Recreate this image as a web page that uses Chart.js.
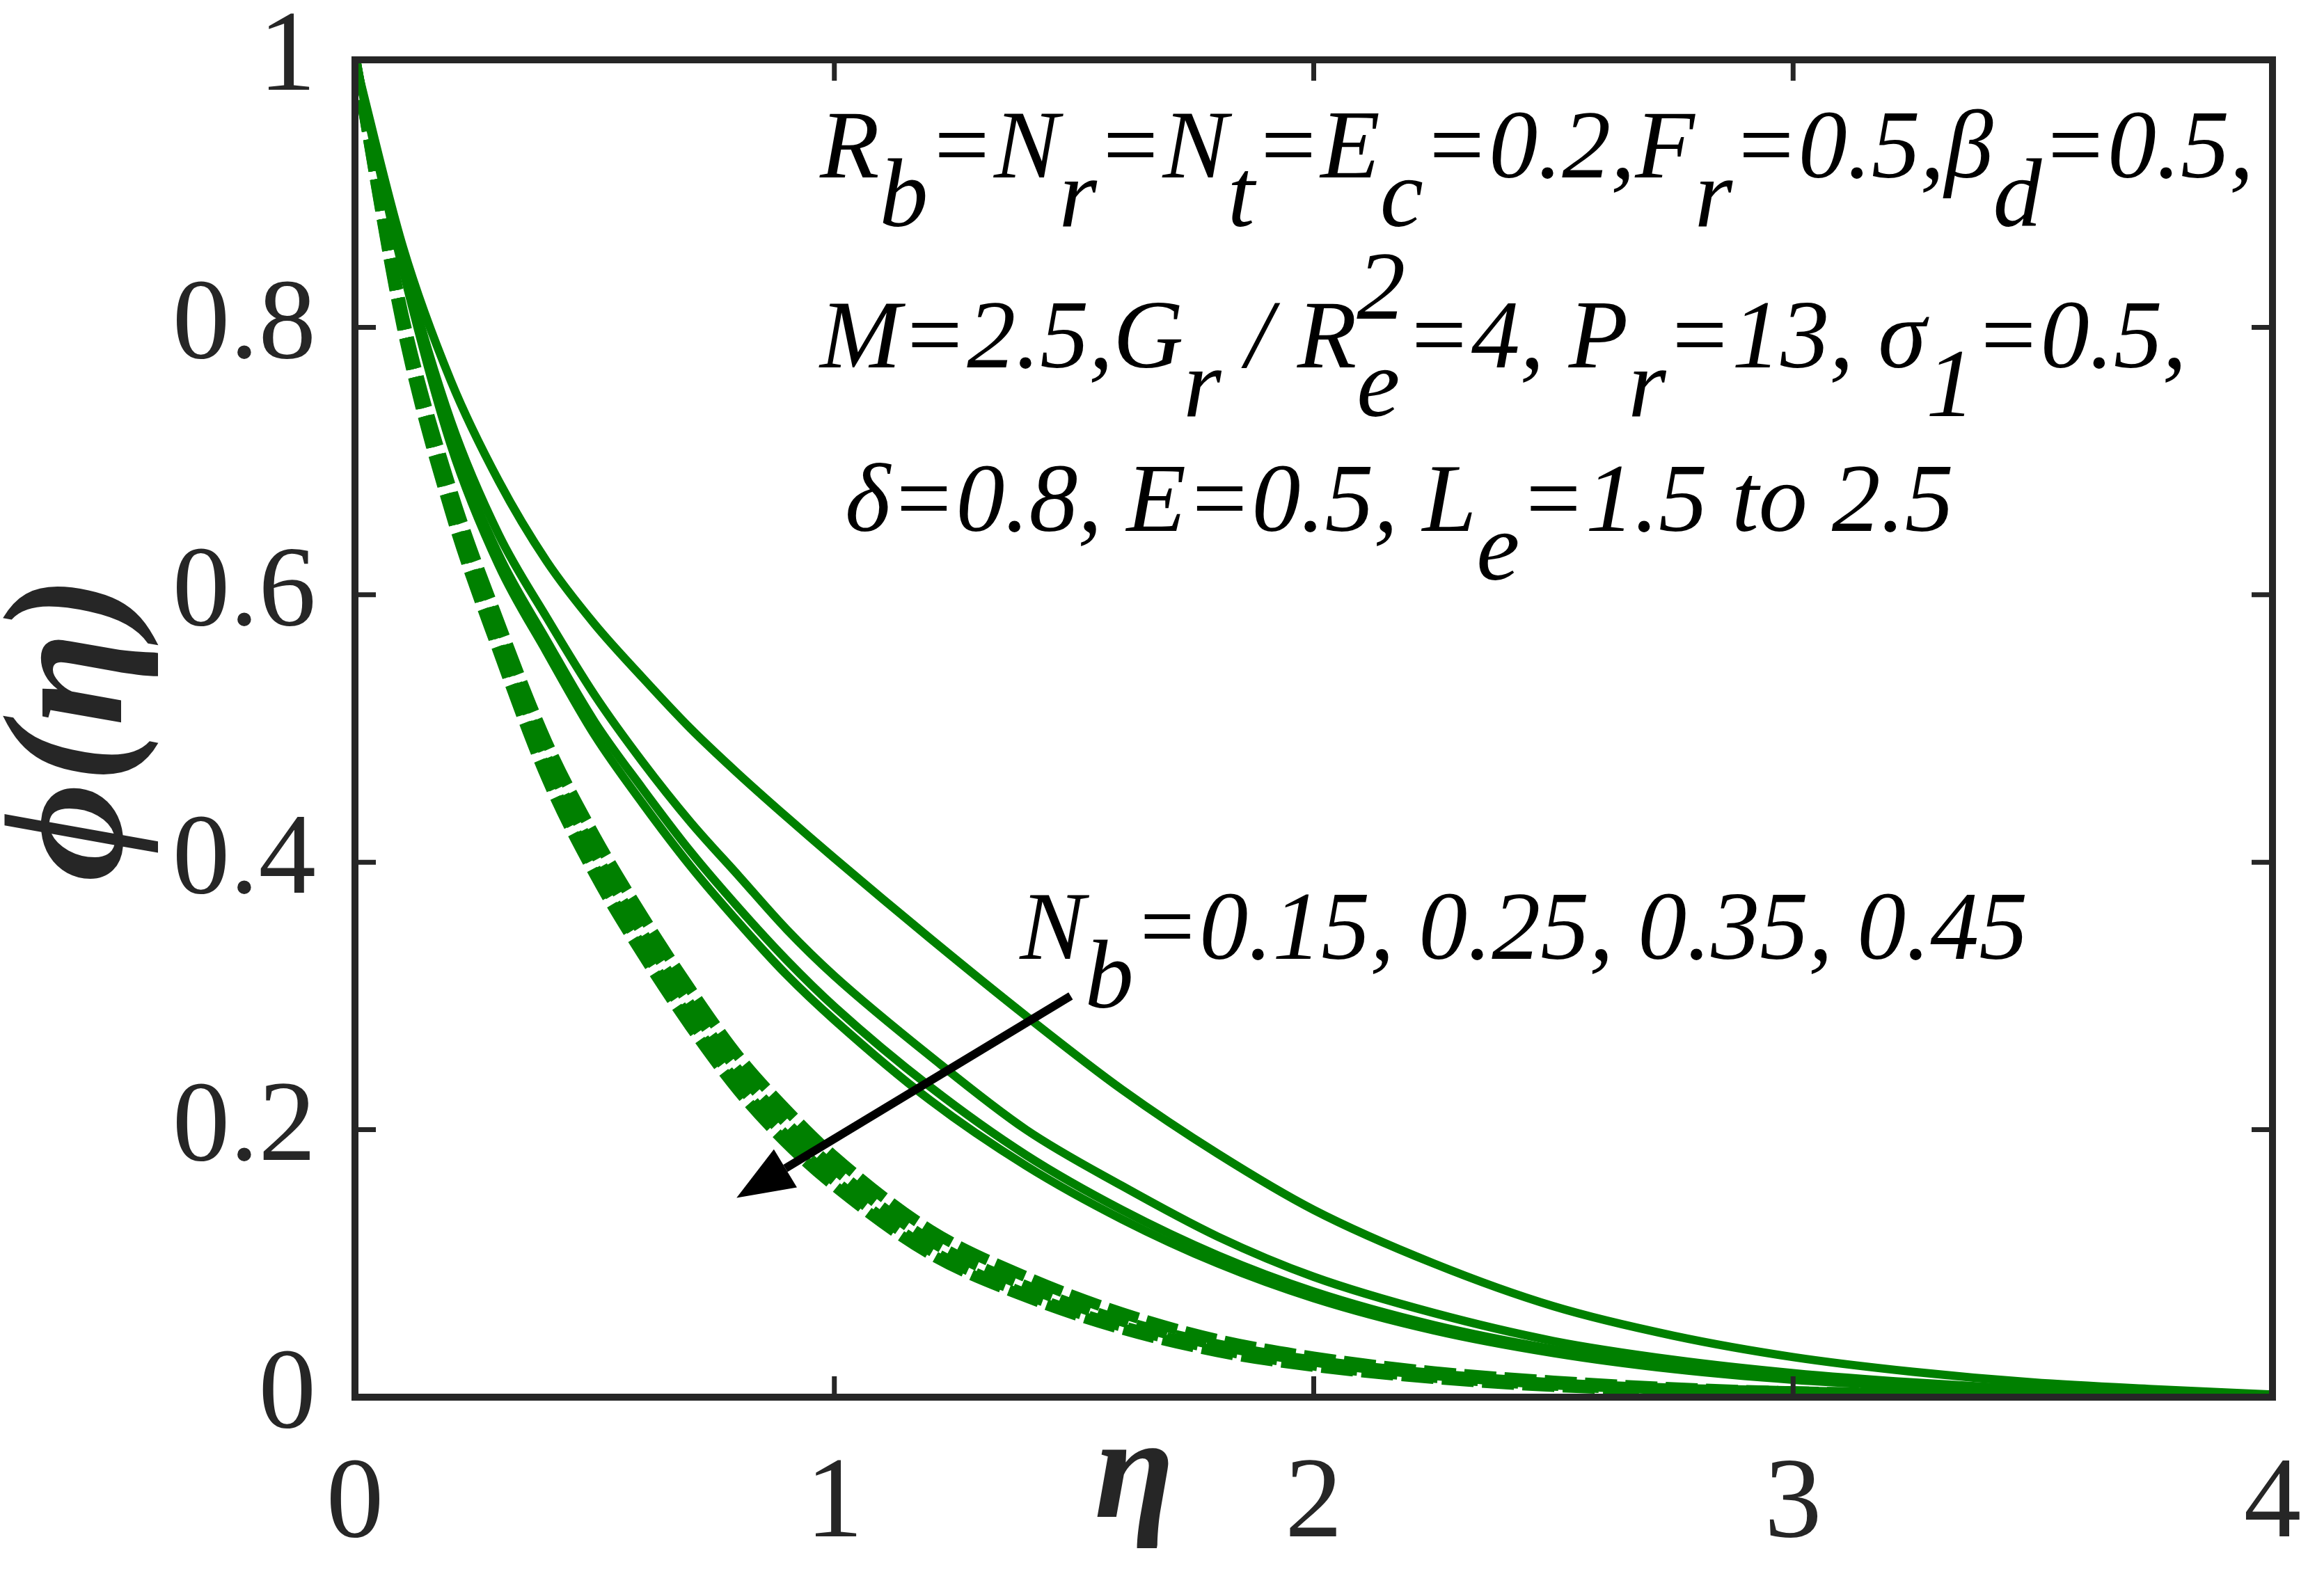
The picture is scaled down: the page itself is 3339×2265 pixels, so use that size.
<!DOCTYPE html>
<html>
<head>
<meta charset="utf-8">
<script src="https://cdn.jsdelivr.net/npm/chart.js@4.4.1/dist/chart.umd.min.js"></script>
<style>
  html, body { margin: 0; padding: 0; background: #fff; }
</style>
</head>
<body>
<canvas id="chart" width="3339" height="2265"></canvas>
<script>
// eta grid and concentration profiles phi(eta)
const eta = [0, 0.1, 0.2, 0.3, 0.4, 0.5, 0.6, 0.7, 0.8, 0.9, 1.0, 1.2, 1.4, 1.6, 1.8, 2.0, 2.25, 2.5, 2.75, 3.0, 3.25, 3.5, 3.75, 4.0];

// solid curves
const phiSolid1 = [1, 0.86, 0.76, 0.685, 0.625, 0.578, 0.538, 0.5, 0.466, 0.434, 0.403, 0.343, 0.285, 0.23, 0.182, 0.14, 0.1, 0.068, 0.046, 0.03, 0.019, 0.011, 0.006, 0.002];
const phiSolid2 = [1, 0.85, 0.73, 0.645, 0.583, 0.525, 0.475, 0.43, 0.39, 0.35, 0.315, 0.255, 0.2, 0.158, 0.12, 0.09, 0.063, 0.042, 0.028, 0.018, 0.011, 0.006, 0.003, 0.001];
const phiSolid3 = [1, 0.846, 0.718, 0.63, 0.566, 0.505, 0.455, 0.408, 0.366, 0.327, 0.292, 0.232, 0.181, 0.14, 0.106, 0.079, 0.054, 0.036, 0.023, 0.014, 0.008, 0.005, 0.002, 0.001];
const phiSolid4 = [1, 0.843, 0.712, 0.622, 0.557, 0.495, 0.444, 0.397, 0.355, 0.316, 0.282, 0.222, 0.173, 0.133, 0.1, 0.074, 0.05, 0.033, 0.021, 0.013, 0.008, 0.004, 0.002, 0.001];

// dashed curves
const phiDash1 = [1, 0.81, 0.68, 0.58, 0.49, 0.42, 0.36, 0.305, 0.255, 0.215, 0.18, 0.125, 0.09, 0.063, 0.043, 0.03, 0.019, 0.012, 0.007, 0.004, 0.003, 0.002, 0.001, 0];
const phiDash2 = [1, 0.805, 0.672, 0.57, 0.478, 0.407, 0.347, 0.293, 0.244, 0.205, 0.171, 0.117, 0.083, 0.057, 0.039, 0.027, 0.017, 0.01, 0.006, 0.004, 0.002, 0.001, 0.001, 0];
const phiDash3 = [1, 0.8, 0.665, 0.562, 0.468, 0.396, 0.336, 0.282, 0.234, 0.195, 0.162, 0.11, 0.077, 0.053, 0.036, 0.024, 0.015, 0.009, 0.005, 0.003, 0.002, 0.001, 0, 0];
const phiDash4 = [1, 0.798, 0.661, 0.557, 0.463, 0.391, 0.331, 0.277, 0.229, 0.19, 0.158, 0.107, 0.075, 0.051, 0.034, 0.023, 0.014, 0.008, 0.005, 0.003, 0.002, 0.001, 0, 0];

const xTicks = [0, 1, 2, 3, 4];
const yTicks = [0, 0.2, 0.4, 0.6, 0.8, 1];
const yTickLabels = ['0', '0.2', '0.4', '0.6', '0.8', '1'];

const GREEN = '#008000';
const AXIS = '#262626';
const SERIF = '"Liberation Serif", "Times New Roman", serif';

const toPoints = ys => eta.map((x, i) => ({ x, y: ys[i] }));

const solid = ys => ({
  data: toPoints(ys), borderColor: GREEN, borderWidth: 12,
  pointRadius: 0, fill: false, cubicInterpolationMode: 'monotone'
});
const dashed = ys => ({
  data: toPoints(ys), borderColor: GREEN, borderWidth: 16, borderDash: [46, 12],
  pointRadius: 0, fill: false, cubicInterpolationMode: 'monotone'
});

// text with _{sub} and ^{sup}; a ^ right after a _ is stacked over it
function drawRich(ctx, str, x, y, size) {
  ctx.font = `italic ${size}px ${SERIF}`;
  ctx.textAlign = 'left';
  ctx.textBaseline = 'alphabetic';
  const re = /([_^])\{([^}]*)\}|([^_^]+)/g;
  let cx = x, prev = null, prevStart = 0, m;
  while ((m = re.exec(str))) {
    if (m[3]) {
      ctx.fillText(m[3], cx, y);
      cx += ctx.measureText(m[3]).width;
      prev = null;
    } else {
      const t = m[2];
      const w = ctx.measureText(t).width;
      const stacked = prev === '_' && m[1] === '^';
      const sx = stacked ? prevStart : cx;
      const dy = m[1] === '_' ? size * 0.5 : -size * 0.5;
      ctx.fillText(t, sx, y + dy);
      cx = stacked ? Math.max(cx, sx + w) : sx + w;
      prev = m[1];
      prevStart = sx;
    }
  }
}

const frame = {
  id: 'frame',
  afterDatasetsDraw(chart) {
    const { ctx, chartArea: a, scales: { x, y } } = chart;
    ctx.save();
    ctx.strokeStyle = AXIS;
    ctx.lineWidth = 7;
    const tl = 30;
    ctx.beginPath();
    xTicks.forEach(v => {
      const px = x.getPixelForValue(v);
      ctx.moveTo(px, a.bottom); ctx.lineTo(px, a.bottom - tl);
      ctx.moveTo(px, a.top); ctx.lineTo(px, a.top + tl);
    });
    yTicks.forEach(v => {
      const py = y.getPixelForValue(v);
      ctx.moveTo(a.left, py); ctx.lineTo(a.left + tl, py);
      ctx.moveTo(a.right, py); ctx.lineTo(a.right - tl, py);
    });
    ctx.stroke();
    ctx.lineWidth = 10;
    ctx.strokeRect(a.left, a.top, a.right - a.left, a.bottom - a.top);
    ctx.restore();
  }
};

const notes = {
  id: 'notes',
  afterDraw(chart) {
    const { ctx, scales: { x, y } } = chart;
    ctx.save();
    ctx.fillStyle = '#000';
    const fs = 140;
    drawRich(ctx, 'R_{b}=N_{r}=N_{t}=E_{c}=0.2,F_{r}=0.5,\u03b2_{d}=0.5,', x.getPixelForValue(0.97), y.getPixelForValue(0.912), fs);
    drawRich(ctx, 'M=2.5,G_{r} / R_{e}^{2}=4, P_{r}=13, \u03c3_{1}=0.5,', x.getPixelForValue(0.97), y.getPixelForValue(0.77), fs);
    drawRich(ctx, '\u03b4=0.8, E=0.5, L_{e}=1.5 to 2.5', x.getPixelForValue(1.022), y.getPixelForValue(0.648), fs);
    drawRich(ctx, 'N_{b}=0.15, 0.25, 0.35, 0.45', x.getPixelForValue(1.387), y.getPixelForValue(0.328), fs);

    // arrow pointing in the direction of increasing N_b
    const x0 = x.getPixelForValue(1.493), y0 = y.getPixelForValue(0.300);
    const x1 = x.getPixelForValue(0.796), y1 = y.getPixelForValue(0.149);
    const ang = Math.atan2(y1 - y0, x1 - x0);
    const hl = 82, hw = 32;
    const bx = x1 - hl * Math.cos(ang), by = y1 - hl * Math.sin(ang);
    ctx.strokeStyle = '#000';
    ctx.lineWidth = 12;
    ctx.beginPath();
    ctx.moveTo(x0, y0);
    ctx.lineTo(bx, by);
    ctx.stroke();
    ctx.beginPath();
    ctx.moveTo(x1, y1);
    ctx.lineTo(bx + hw * Math.sin(ang), by - hw * Math.cos(ang));
    ctx.lineTo(bx - hw * Math.sin(ang), by + hw * Math.cos(ang));
    ctx.closePath();
    ctx.fillStyle = '#000';
    ctx.fill();

    // axis titles
    ctx.fillStyle = AXIS;
    ctx.font = `bold italic 210px ${SERIF}`;
    ctx.textAlign = 'center';
    ctx.textBaseline = 'alphabetic';
    ctx.fillText('\u03b7', x.getPixelForValue(1.626), 2180);

    ctx.translate(175, y.getPixelForValue(0.5));
    ctx.rotate(-Math.PI / 2);
    ctx.font = `bold italic 245px ${SERIF}`;
    ctx.fillText('\u03d5(\u03b7)', 0, 0);
    ctx.restore();
  }
};

new Chart(document.getElementById('chart'), {
  type: 'line',
  data: {
    datasets: [
      solid(phiSolid1), solid(phiSolid2), solid(phiSolid3), solid(phiSolid4),
      dashed(phiDash1), dashed(phiDash2), dashed(phiDash3), dashed(phiDash4)
    ]
  },
  options: {
    responsive: false,
    devicePixelRatio: 1,
    animation: false,
    layout: { padding: { left: 0, right: 74, top: 86, bottom: 0 } },
    plugins: { legend: { display: false }, tooltip: { enabled: false } },
    scales: {
      x: {
        type: 'linear', min: 0, max: 4,
        grid: { display: false },
        border: { display: false },
        afterBuildTicks: s => { s.ticks = xTicks.map(v => ({ value: v })); },
        afterFit: s => { s.height = 257; s.paddingLeft = 0; s.paddingRight = 0; },
        ticks: {
          color: AXIS, padding: 50, maxRotation: 0,
          font: { family: SERIF, size: 165 },
          callback: v => String(v)
        }
      },
      y: {
        type: 'linear', min: 0, max: 1,
        grid: { display: false },
        border: { display: false },
        afterBuildTicks: s => { s.ticks = yTicks.map(v => ({ value: v })); },
        afterFit: s => { s.width = 510; s.paddingTop = 0; s.paddingBottom = 0; },
        ticks: {
          color: AXIS, padding: 48,
          font: { family: SERIF, size: 165 },
          callback: v => yTickLabels[yTicks.findIndex(t => Math.abs(t - v) < 1e-9)]
        }
      }
    }
  },
  plugins: [frame, notes]
});
</script>
</body>
</html>
